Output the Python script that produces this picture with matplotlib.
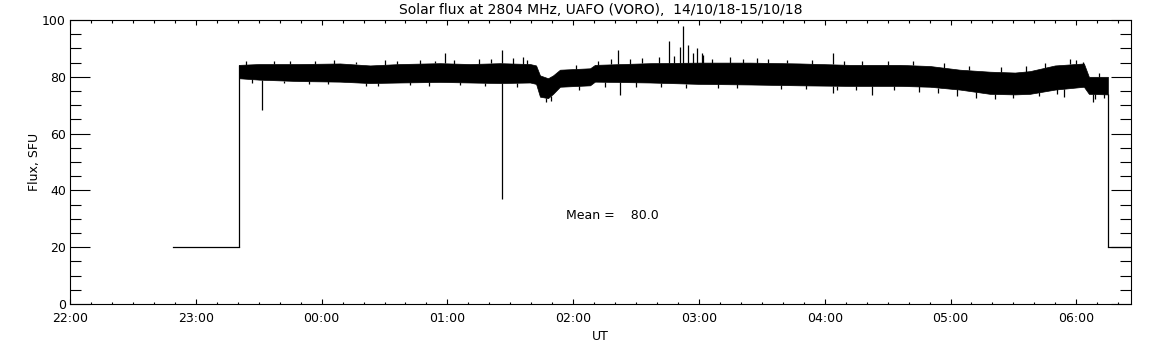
import numpy as np
import matplotlib
matplotlib.use('Agg')
import matplotlib.pyplot as plt
from matplotlib.ticker import MultipleLocator

# time in hours after 22:00 UT, envelope of the noisy record
t_band = [1.343, 1.504, 1.822, 2.146, 2.385, 2.623, 2.941, 3.180, 3.418, 3.657,
          3.705, 3.736, 3.800, 3.840, 3.895, 4.134, 4.173, 4.610, 5.008, 5.405,
          5.803, 6.200, 6.598, 6.836, 7.075, 7.313, 7.512, 7.631, 7.830, 8.060,
          8.100, 8.251]
flux_lo = [79.5, 79.0, 78.5, 78.3, 77.8, 78.0, 78.2, 78.0, 77.8, 78.0,
           77.5, 73.0, 72.5, 74.0, 76.5, 77.0, 78.3, 78.0, 77.5, 77.3,
           77.0, 76.8, 76.8, 76.5, 75.5, 74.0, 73.8, 74.0, 75.5, 76.5,
           74.0, 73.8]
flux_hi = [84.2, 84.5, 84.5, 84.7, 84.0, 84.5, 84.8, 84.5, 84.8, 84.5,
           84.0, 80.5, 79.5, 80.5, 82.5, 83.0, 84.2, 84.8, 85.0, 85.0,
           84.7, 84.2, 84.2, 83.8, 82.5, 81.8, 81.5, 82.0, 84.0, 84.7,
           80.0, 80.0]

# isolated spikes (time, flux)
spike_t = [1.524, 3.434, 3.434, 3.605, 2.980, 4.356, 4.372, 4.762, 4.849, 4.870,
           4.910, 4.950, 4.982, 5.021, 5.032, 5.459, 6.063, 6.063, 6.373, 7.902,
           8.052, 8.132]
spike_v = [68.3, 37.0, 89.4, 87.0, 88.5, 89.4, 73.6, 92.6, 90.6, 97.9,
           91.2, 88.4, 90.0, 88.3, 87.7, 86.5, 88.3, 74.2, 73.6, 73.0,
           85.3, 71.0]

# small excursions along the edges of the band
jit_t = [1.40, 1.62, 1.75, 1.95, 2.10, 2.27, 2.50, 2.60, 2.78, 2.90,
         3.05, 3.25, 3.35, 3.52, 3.63, 4.02, 4.20, 4.30, 4.45, 4.55,
         4.68, 4.80, 5.10, 5.25, 5.35, 5.55, 5.70, 5.90, 6.15, 6.30,
         6.50, 6.70, 6.95, 7.15, 7.40, 7.60, 7.75, 7.95, 8.00, 8.18,
         1.45, 1.70, 1.90, 2.05, 2.35, 2.45, 2.70, 2.85, 3.10, 3.30,
         3.55, 3.78, 3.82, 4.05, 4.25, 4.50, 4.70, 4.90, 5.15, 5.30,
         5.65, 5.85, 6.10, 6.25, 6.55, 6.75, 6.90, 7.05, 7.20, 7.35,
         7.50, 7.70, 7.85, 8.15, 8.22]
jit_v = [85.5, 85.6, 85.4, 85.7, 85.8, 85.3, 85.9, 85.6, 86.0, 85.7,
         85.8, 86.2, 86.4, 86.6, 85.9, 84.0, 85.7, 86.2, 86.4, 86.7,
         86.9, 87.4, 86.4, 86.9, 86.2, 86.4, 85.9, 85.9, 85.6, 85.4,
         85.7, 85.4, 84.9, 83.9, 83.4, 83.9, 84.9, 86.4, 85.9, 81.2,
         77.8, 77.9, 77.6, 77.3, 76.6, 76.9, 77.0, 76.7, 77.0, 76.6,
         76.5, 71.3, 71.6, 75.5, 76.5, 76.3, 76.5, 76.2, 76.0, 76.2,
         75.7, 75.6, 75.4, 75.2, 75.2, 74.7, 74.4, 73.1, 72.6, 72.2,
         72.4, 73.1, 74.1, 72.3, 72.6]

# quiet levels before and after the observing run
pre_t = [0.819, 1.343]
pre_v = [20.0, 20.0]
post_t = [8.251, 8.435]
post_v = [20.0, 20.0]

x_ticks = [0, 1, 2, 3, 4, 5, 6, 7, 8]
x_labels = ['22:00', '23:00', '00:00', '01:00', '02:00', '03:00', '04:00', '05:00', '06:00']
mean_flux = 80.0

fig = plt.figure(figsize=(11.52, 3.45), dpi=100)
ax = fig.add_axes([0.0608, 0.1188, 0.9210, 0.8232])

lw = 0.9
ax.plot(pre_t, pre_v, color='black', lw=lw)
ax.plot(post_t, post_v, color='black', lw=lw)
ax.vlines([t_band[0]], 20, flux_hi[0], color='black', lw=lw)
ax.vlines([t_band[-1]], 20, flux_lo[-1], color='black', lw=lw)
ax.fill_between(t_band, flux_lo, flux_hi, color='black', lw=0.5, edgecolor='black')


def edge_line(t, v):
    base = np.interp(t, t_band, flux_hi) if v > 80 else np.interp(t, t_band, flux_lo)
    ax.vlines(t, min(base, v), max(base, v), color='black', lw=lw)


for t, v in zip(spike_t, spike_v):
    edge_line(t, v)
for t, v in zip(jit_t, jit_v):
    edge_line(t, v)

ax.set_xlim(0, 8.435)
ax.set_ylim(0, 100)
ax.set_xticks(x_ticks)
ax.set_xticklabels(x_labels)
ax.xaxis.set_minor_locator(MultipleLocator(1 / 6))
ax.yaxis.set_major_locator(MultipleLocator(20))
ax.yaxis.set_minor_locator(MultipleLocator(5))

ax.tick_params(axis='x', which='major', direction='in', length=3.6, width=0.8,
               top=True, labelsize=9, pad=6)
ax.tick_params(axis='x', which='minor', direction='in', length=1.8, width=0.8, top=True)
ax.tick_params(axis='y', which='major', direction='in', length=14.4, width=0.8,
               right=True, labelsize=9, pad=3)
ax.tick_params(axis='y', which='minor', direction='in', length=7.9, width=0.8, right=True)
for s in ax.spines.values():
    s.set_linewidth(0.8)

ax.set_xlabel('UT', fontsize=9, labelpad=3)
ax.set_ylabel('Flux, SFU', fontsize=9, labelpad=1)
ax.set_title('Solar flux at 2804 MHz, UAFO (VORO),  14/10/18-15/10/18', fontsize=10, pad=4)
ax.text(3.943, 31.3, f'Mean =    {mean_flux:.1f}', fontsize=9, va='center', ha='left')

fig.savefig('out.png', dpi=100)
